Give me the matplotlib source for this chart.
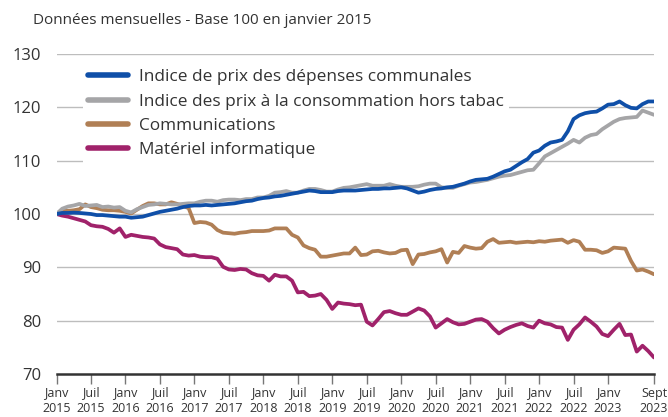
import numpy as np
import matplotlib
matplotlib.use("Agg")
import matplotlib.pyplot as plt

plt.rcParams['font.family'] = ['Open Sans', 'DejaVu Sans']

# Données mensuelles, janvier 2015 -> septembre 2023 (base 100 en janvier 2015)
mois = np.arange(105)

depenses_communales = [
    100.0, 100.2, 100.2, 100.25, 100.2, 100.1, 100.0, 99.8, 99.8, 99.7, 99.6, 99.5,
    99.5, 99.3, 99.4, 99.5, 99.8, 100.1, 100.4, 100.6, 100.8, 101.0, 101.3, 101.5,
    101.6, 101.6, 101.7, 101.6, 101.7, 101.8, 101.9, 102.0, 102.2, 102.4, 102.5, 102.8,
    103.0, 103.1, 103.3, 103.4, 103.6, 103.8, 104.0, 104.2, 104.4, 104.3, 104.1, 104.1,
    104.1, 104.3, 104.4, 104.4, 104.4, 104.5, 104.6, 104.7, 104.7, 104.8, 104.8, 104.9,
    105.0, 104.8, 104.4, 104.0, 104.2, 104.5, 104.7, 104.8, 105.0, 105.1, 105.4, 105.7,
    106.1, 106.4, 106.5, 106.6, 107.0, 107.5, 108.0, 108.3, 109.0, 109.7, 110.3, 111.5,
    111.9, 112.8, 113.4, 113.6, 113.9, 115.5, 117.8, 118.5, 118.9, 119.1, 119.2, 119.8,
    120.5, 120.6, 121.1, 120.4, 119.9, 119.8, 120.6, 121.1, 121.1,
]

ipc_hors_tabac = [
    100.0, 101.0, 101.4, 101.6, 101.9, 101.5, 101.6, 101.7, 101.3, 101.4, 101.2, 101.3,
    100.6, 100.3, 100.9, 101.3, 101.7, 101.8, 102.0, 101.9, 101.8, 101.8, 101.9, 102.0,
    102.0, 102.3, 102.5, 102.5, 102.3, 102.6, 102.7, 102.7, 102.6, 102.8, 102.8, 103.1,
    103.1, 103.4, 104.0, 104.1, 104.3, 104.0, 104.0, 104.4, 104.7, 104.7, 104.5, 104.2,
    104.2, 104.6, 104.9, 105.0, 105.2, 105.4, 105.6, 105.3, 105.3, 105.3, 105.6, 105.3,
    105.1, 105.1, 105.1, 105.2, 105.5, 105.7, 105.7, 105.0, 104.9, 104.9, 105.3, 105.6,
    105.9, 106.0, 106.2, 106.4, 106.7, 107.0, 107.2, 107.3, 107.6, 107.9, 108.2, 108.3,
    109.5, 110.8, 111.4, 112.0, 112.6, 113.2, 113.9, 113.4, 114.3, 114.8, 115.0, 115.9,
    116.6, 117.3, 117.8, 118.0, 118.1, 118.2, 119.4, 119.0, 118.6,
]

communications = [
    100.0, 100.7, 100.6, 100.7, 100.9, 101.8, 101.3, 101.1, 100.8, 100.7, 100.7, 100.6,
    100.4, 100.1, 100.8, 101.5, 102.0, 102.0, 101.8, 101.8, 102.2, 101.9, 101.5, 101.1,
    98.3, 98.5, 98.4, 98.0, 97.0, 96.5, 96.4, 96.3, 96.5, 96.6, 96.8, 96.8,
    96.8, 96.9, 97.3, 97.3, 97.3, 96.1, 95.6, 94.1, 93.6, 93.3, 92.0, 92.0,
    92.2, 92.4, 92.6, 92.6, 93.7, 92.3, 92.4, 93.0, 93.1, 92.8, 92.6, 92.7,
    93.2, 93.3, 90.6, 92.4, 92.5, 92.8, 93.0, 93.4, 90.9, 92.9, 92.7, 94.0,
    93.7, 93.5, 93.6, 94.8, 95.3, 94.6, 94.7, 94.8, 94.6, 94.7, 94.8, 94.7,
    94.9, 94.8, 95.0, 95.1, 95.2, 94.6, 95.1, 94.8, 93.3, 93.3, 93.2, 92.7,
    93.0, 93.7, 93.6, 93.5, 91.2, 89.4, 89.6, 89.2, 88.7,
]

materiel_informatique = [
    100.0, 99.7, 99.5, 99.2, 98.9, 98.6, 97.9, 97.7, 97.6, 97.2, 96.5, 97.3,
    95.7, 96.1, 95.9, 95.7, 95.6, 95.4, 94.3, 93.8, 93.6, 93.4, 92.4, 92.2,
    92.3, 92.0, 91.9, 91.9, 91.6, 90.1, 89.6, 89.5, 89.7, 89.6, 88.9, 88.5,
    88.4, 87.5, 88.6, 88.3, 88.3, 87.5, 85.3, 85.4, 84.6, 84.7, 85.0, 83.9,
    82.2, 83.4, 83.2, 83.1, 82.9, 83.0, 79.8, 79.1, 80.3, 81.6, 81.8, 81.4,
    81.1, 81.1, 81.7, 82.3, 81.9, 80.8, 78.7, 79.5, 80.3, 79.7, 79.3, 79.4,
    79.8, 80.2, 80.3, 79.8, 78.6, 77.6, 78.3, 78.8, 79.2, 79.5, 79.0, 78.7,
    80.0, 79.5, 79.3, 78.8, 78.7, 76.4, 78.3, 79.3, 80.6, 79.8, 78.9, 77.5,
    77.1, 78.3, 79.4, 77.3, 77.4, 74.2, 75.3, 74.3, 73.1,
]

series = [
    ("Indice de prix des dépenses communales", depenses_communales, "#0f4fa8"),
    ("Indice des prix à la consommation hors tabac", ipc_hors_tabac, "#a5a5a7"),
    ("Communications", communications, "#b07f55"),
    ("Matériel informatique", materiel_informatique, "#a0226a"),
]

x_ticks = list(range(0, 97, 6)) + [104]
x_labels = []
for m in x_ticks[:-1]:
    annee = 2015 + m // 12
    x_labels.append(("Janv" if m % 12 == 0 else "Juil") + "\n" + str(annee))
x_labels.append("Sept\n2023")

y_ticks = [70, 80, 90, 100, 110, 120, 130]

fig = plt.figure(figsize=(6.68, 4.17), dpi=100)
ax = fig.add_axes([56.5 / 668, 1 - 374 / 417, 597.5 / 668, 320 / 417])

# tracé dans l'ordre inverse pour que le bleu soit au-dessus
for nom, valeurs, couleur in series[::-1]:
    ax.plot(mois, valeurs, color=couleur, lw=2.7, solid_capstyle='round',
            solid_joinstyle='round', label=nom)

ax.set_xlim(0, 104)
ax.set_ylim(70, 130)
ax.set_yticks(y_ticks)
ax.set_yticklabels([str(v) for v in y_ticks], fontsize=12, color='#333333')
ax.set_xticks(x_ticks)
ax.set_xticklabels(x_labels, fontsize=9, color='#333333', linespacing=1.2)
ax.tick_params(axis='y', length=0, pad=11)
ax.tick_params(axis='x', length=7, width=1, color='#777777', pad=2)

for v in y_ticks[1:]:
    ax.axhline(v, color='#bdbdbd', lw=1, zorder=0)

for s in ['top', 'right', 'left']:
    ax.spines[s].set_visible(False)
ax.spines['bottom'].set_color('#333333')
ax.spines['bottom'].set_linewidth(1.8)

handles, labels = ax.get_legend_handles_labels()
leg = ax.legend(handles[::-1], labels[::-1], loc='upper left',
                bbox_to_anchor=(0.044, 0.968), borderaxespad=0, borderpad=0.3,
                fontsize=12.4, frameon=True, framealpha=1, edgecolor='none',
                fancybox=False, handlelength=2.3, handletextpad=0.68,
                labelspacing=0.48, labelcolor='#333333')
for ligne in leg.get_lines():
    ligne.set_linewidth(4)
leg.set_zorder(5)

fig.text(33 / 668, 1 - 20 / 417, "Données mensuelles - Base 100 en janvier 2015",
         fontsize=11, color='#333333', va='center', ha='left')

fig.savefig("out.png", dpi=100)
